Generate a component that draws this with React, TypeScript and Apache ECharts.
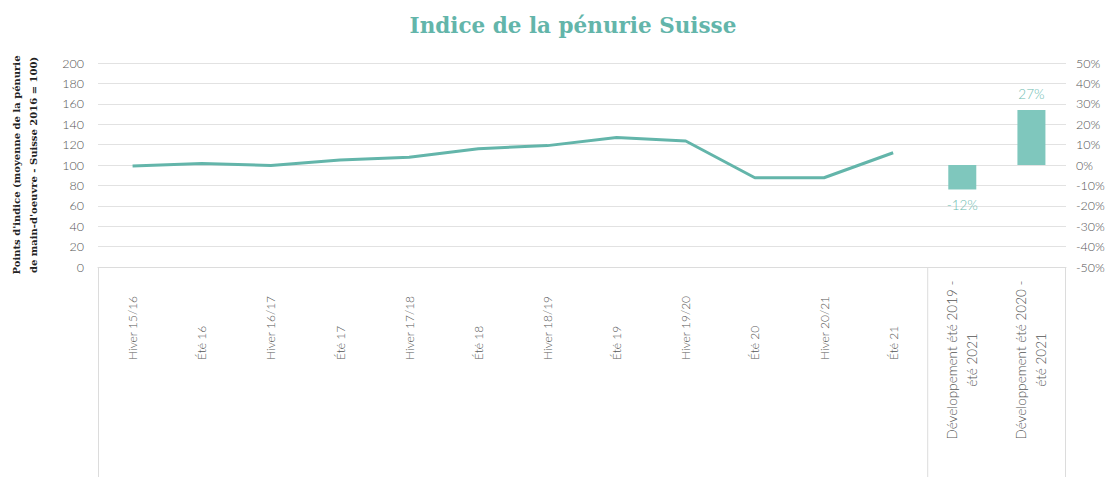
import React, { useEffect, useRef } from "react";
import * as echarts from "echarts";

const categories = [
  "Hiver 15/16",
  "Été 16",
  "Hiver 16/17",
  "Été 17",
  "Hiver 17/18",
  "Été 18",
  "Hiver 18/19",
  "Été 19",
  "Hiver 19/20",
  "Été 20",
  "Hiver 20/21",
  "Été 21",
  "Développement été 2019 -\nété 2021",
  "Développement été 2020 -\nété 2021",
];
const indexValues: (number | null)[] = [99, 101.5, 99.5, 105, 107.5, 116, 119, 127, 123.5, 87.5, 87.5, 112, null, null];
const changeValues: (number | null)[] = [null, null, null, null, null, null, null, null, null, null, null, null, -12, 27];

const TEAL_LINE = "#63b5aa";
const TEAL_BAR = "#7fc7bd";
const TEAL_TEXT = "#6dbcb1";
const LABEL_FONT = "Lato";
const W = 1115;
const H = 477;
const GL = 98;
const GR = 1066;
const GT = 63;
const GB = 267;

export default function App() {
  const ref = useRef<HTMLDivElement>(null);
  useEffect(() => {
    document.body.style.margin = "0";
    const chart = echarts.init(ref.current!, null, { renderer: "svg" });
    const catW = (GR - GL) / categories.length;
    const sepX = GL + 12 * catW;
    const lineStyle = { stroke: "#dcdcdc", lineWidth: 1 };
    chart.setOption({
      animation: false,
      title: {
        text: "Indice de la pénurie Suisse",
        left: 568,
        textAlign: "center",
        top: 9,
        textStyle: {
          fontFamily: "DejaVu Serif",
          fontWeight: "bold",
          fontSize: 21.5,
          color: TEAL_LINE,
        },
      },
      grid: { left: GL, right: W - GR, top: GT, bottom: H - GB, containLabel: false },
      xAxis: {
        type: "category",
        data: categories.map((c, i) =>
          i >= 12 ? { value: c, textStyle: { align: "center", fontSize: 13.5, lineHeight: 20 } } : c
        ),
        boundaryGap: true,
        axisLine: { show: true, lineStyle: { color: "#dcdcdc" } },
        axisTick: { show: false },
        axisLabel: {
          rotate: 90,
          align: "left",
          margin: 93,
          interval: 0,
          fontFamily: LABEL_FONT,
          fontWeight: 300,
          fontSize: 12,
          color: "#555",
          lineHeight: 19,
        },
      },
      yAxis: [
        {
          type: "value",
          min: 0,
          max: 200,
          interval: 20,
          name: "Points d'indice (moyenne de la pénurie\nde main-d'oeuvre - Suisse 2016 = 100)",
          nameLocation: "middle",
          nameGap: 56,
          nameTextStyle: {
            fontFamily: "DejaVu Serif",
            fontWeight: "bold",
            fontSize: 10,
            color: "#222",
            lineHeight: 17,
          },
          axisLine: { show: false },
          axisTick: { show: false },
          axisLabel: { margin: 14, fontFamily: LABEL_FONT, fontWeight: 300, fontSize: 12.5, color: "#555" },
          splitLine: { lineStyle: { color: "#e2e2e2" } },
        },
        {
          type: "value",
          min: -50,
          max: 50,
          interval: 10,
          position: "right",
          axisLine: { show: false },
          axisTick: { show: false },
          axisLabel: { margin: 10, fontFamily: LABEL_FONT, fontWeight: 300, fontSize: 12.5, color: "#555", formatter: "{value}%" },
          splitLine: { show: false },
        },
      ],
      series: [
        {
          type: "line",
          data: indexValues,
          yAxisIndex: 0,
          symbol: "none",
          lineStyle: { color: TEAL_LINE, width: 3 },
          itemStyle: { color: TEAL_LINE },
        },
        {
          type: "bar",
          data: changeValues,
          yAxisIndex: 1,
          barWidth: 28,
          itemStyle: { color: TEAL_BAR },
          label: {
            show: true,
            position: "outside",
            formatter: (p: any) => (p.value == null ? "" : `${p.value}%`),
            color: TEAL_TEXT,
            fontFamily: LABEL_FONT,
            fontWeight: 300,
            fontSize: 13.5,
            distance: 9,
          },
        },
      ],
      graphic: [
        { type: "line", shape: { x1: GL + 0.5, y1: GB, x2: GL + 0.5, y2: H }, style: lineStyle, silent: true },
        { type: "line", shape: { x1: sepX, y1: GB, x2: sepX, y2: H }, style: lineStyle, silent: true },
        { type: "line", shape: { x1: GR - 0.5, y1: GB, x2: GR - 0.5, y2: H }, style: lineStyle, silent: true },
      ],
    });
    return () => chart.dispose();
  }, []);
  return <div ref={ref} style={{ width: W, height: H, position: "absolute", left: 0, top: 0 }} />;
}
